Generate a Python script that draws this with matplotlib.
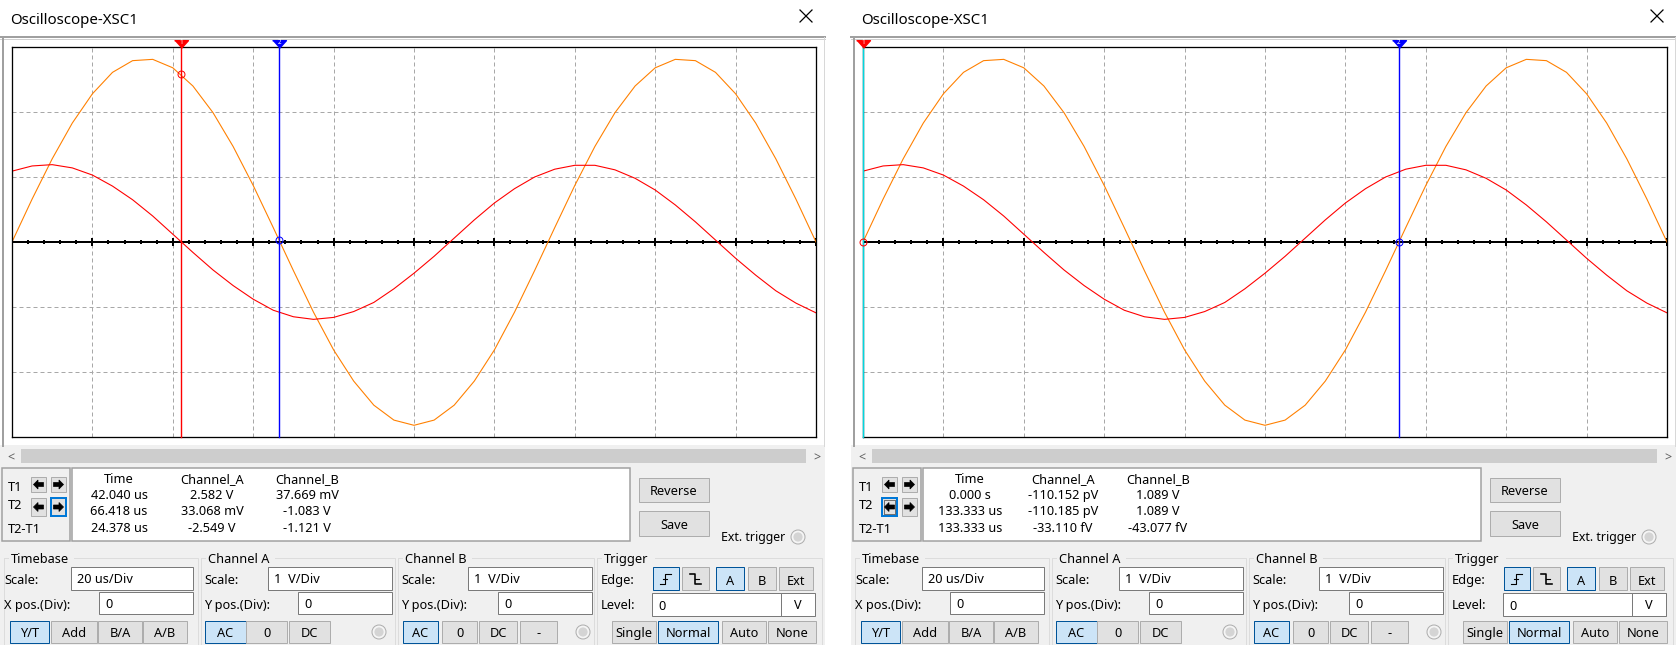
import matplotlib
matplotlib.use('Agg')
import matplotlib.pyplot as plt
from matplotlib.patches import Rectangle, Circle, Polygon

plt.rcParams['font.family'] = ['Noto Sans', 'DejaVu Sans']

# ---------------- data read off the screens ----------------
# sample times (us), 20 us/Div, 10 divisions
t_us = [0, 5, 10, 15, 20, 25, 30, 35, 40, 45, 50, 55, 60, 65, 70, 75, 80, 85, 90, 95,
        100, 105, 110, 115, 120, 125, 130, 135, 140, 145, 150, 155, 160, 165, 170, 175,
        180, 185, 190, 195, 200]

# channel A (orange), volts
ch_a = [0.00, 0.66, 1.28, 1.83, 2.28, 2.61, 2.79, 2.81, 2.68, 2.40, 1.99, 1.47, 0.87,
        0.22, -0.44, -1.08, -1.66, -2.14, -2.51, -2.74, -2.82, -2.74, -2.51, -2.14,
        -1.66, -1.08, -0.44, 0.22, 0.87, 1.47, 1.99, 2.40, 2.68, 2.81, 2.79, 2.61,
        2.28, 1.83, 1.28, 0.66, 0.00]

# channel B (red), volts
ch_b = [1.09, 1.17, 1.19, 1.14, 1.03, 0.86, 0.65, 0.40, 0.12, -0.16, -0.43, -0.67,
        -0.88, -1.05, -1.15, -1.19, -1.16, -1.07, -0.93, -0.72, -0.48, -0.22, 0.06,
        0.34, 0.60, 0.82, 1.00, 1.12, 1.18, 1.18, 1.11, 0.98, 0.80, 0.57, 0.31, 0.03,
        -0.25, -0.51, -0.75, -0.94, -1.09]

# cursor positions (us) and channel A value at each cursor (V)
left_cursor_t = [42.040, 66.418]
left_cursor_a = [2.582, 0.033]
right_cursor_t = [0.0, 133.333]
right_cursor_a = [0.0, 0.0]

# readout tables
readout_head = ['Time', 'Channel_A', 'Channel_B']
left_rows = [['42.040 us', '2.582 V', '37.669 mV'],
             ['66.418 us', '33.068 mV', '-1.083 V'],
             ['24.378 us', '-2.549 V', '-1.121 V']]
right_rows = [['0.000 s', '-110.152 pV', '1.089 V'],
              ['133.333 us', '-110.185 pV', '1.089 V'],
              ['133.333 us', '-33.110 fV', '-43.077 fV']]

W, H = 1676, 645
PX = 0.72  # one pixel in points

fig = plt.figure(figsize=(W / 100, H / 100), dpi=100)
fig.patch.set_facecolor('white')
bg = fig.add_axes([0, 0, 1, 1])
bg.set_xlim(0, W)
bg.set_ylim(H, 0)
bg.axis('off')

FS = 9.2


def rect(x0, y0, x1, y1, fc='none', ec='none', lw=1, z=1, ls='-'):
    bg.add_patch(Rectangle((x0, y0), x1 - x0, y1 - y0, fc=fc, ec=ec,
                           lw=lw * PX, zorder=z, ls=ls))


def txt(x, y, s, ha='left', size=FS, color='black', z=5):
    bg.text(x, y, s, ha=ha, va='baseline', fontsize=size, color=color, zorder=z)


def button(x0, y0, x1, y1, label, active=False, base=None):
    if active:
        rect(x0, y0, x1, y1, fc='#cce4f7', ec='#005499', lw=1, z=3)
    else:
        rect(x0, y0, x1, y1, fc='#e1e1e1', ec='#adadad', lw=1, z=3)
    if label:
        if base is None:
            base = y1 - 6
        txt((x0 + x1) / 2, base, label, ha='center')


def entry(x0, y0, x1, y1, label, base):
    rect(x0, y0, x1, y1, fc='white', ec='#7a7a7a', lw=1, z=3)
    txt(x0 + 6, base, label)


def radio(cx, cy):
    bg.add_patch(Circle((cx, cy), 7, fc='#f5f5f5', ec='#adadad', lw=PX, zorder=4))
    bg.add_patch(Circle((cx, cy), 4.6, fc='#d4d4d4', ec='none', zorder=5))


def arrow(cx, cy, d):
    # d = -1 points left, d = 1 points right
    pts = [(5, 0), (0.5, -4.5), (0.5, -2), (-5, -2), (-5, 2), (0.5, 2), (0.5, 4.5)]
    bg.add_patch(Polygon([(cx + d * px, cy + py) for px, py in pts], closed=True,
                         fc='black', ec='black', lw=0.5, zorder=6))


def draw_window(dx, rows, cur_t, cur_a, t1_color, focus):
    # title bar
    txt(dx + 10, 24, 'Oscilloscope-XSC1', size=10.8)
    bg.plot([dx + 800, dx + 812], [10, 22], color='black', lw=0.9, zorder=5)
    bg.plot([dx + 800, dx + 812], [22, 10], color='black', lw=0.9, zorder=5)

    # screen panel and lower panel
    rect(dx + 0, 445, dx + 825, H, fc='#f0f0f0', z=0)
    bg.plot([dx + 0, dx + 825], [36.5, 36.5], color='#a0a0a0', lw=2 * PX, zorder=2)
    bg.plot([dx + 0, dx + 825], [38.5, 38.5], color='#d0d0d0', lw=1 * PX, zorder=2)
    bg.plot([dx + 2.5, dx + 2.5], [37, 446], color='#a0a0a0', lw=2 * PX, zorder=2)
    bg.plot([dx + 824, dx + 824], [37, 446], color='#d8d8d8', lw=1 * PX, zorder=2)

    # scroll bar
    rect(dx + 21, 449, dx + 806, 463, fc='#cdcdcd', z=2)
    txt(dx + 11, 461, '<', ha='center', size=9, color='#606060')
    txt(dx + 817, 461, '>', ha='center', size=9, color='#606060')

    # cursor buttons box
    rect(dx + 2, 468, dx + 70, 541, fc='#f0f0f0', ec='#a0a0a0', lw=1.5, z=2)
    txt(dx + 8, 491, 'T1')
    txt(dx + 8, 509, 'T2')
    txt(dx + 8, 533, 'T2-T1')
    for (x0, y0, y1, d, foc) in [(31, 477, 492, -1, False), (51, 477, 492, 1, False),
                                 (31, 498, 516, -1, focus == 'left'),
                                 (51, 498, 516, 1, focus == 'right')]:
        if foc:
            rect(dx + x0, y0, dx + x0 + 15, y1, fc='#e1e1e1', ec='#0078d7', lw=2, z=3)
        else:
            rect(dx + x0, y0, dx + x0 + 15, y1, fc='#e1e1e1', ec='#adadad', lw=1, z=3)
        arrow(dx + x0 + 7.5, (y0 + y1) / 2, d)
    if focus == 'left':
        rect(dx + 33, 500, dx + 44, 514, ec='black', lw=1, z=7, ls=(0, (1, 1)))

    # readout box
    rect(dx + 72, 468, dx + 630, 541, fc='white', ec='#a0a0a0', lw=1.5, z=2)
    cols = [119, 212, 307]
    for c, h in zip(cols, readout_head):
        txt(dx + c, 483, h, ha='center')
    for r, base in zip(rows, [499, 515, 532]):
        for c, s in zip(cols, r):
            txt(dx + c, base, s, ha='center')

    button(dx + 639, 478, dx + 709, 502, 'Reverse', base=495)
    button(dx + 639, 511, dx + 709, 536, 'Save', base=529)
    txt(dx + 721, 541, 'Ext. trigger', size=8.9)
    radio(dx + 798, 537)

    # group boxes
    for x0, x1, lab in [(4, 198, 'Timebase'), (201, 395, 'Channel A'),
                        (398, 594, 'Channel B'), (597, 822, 'Trigger')]:
        rect(dx + x0, 558, dx + x1, 652, ec='#dcdcdc', lw=1, z=1)
        w = {'Timebase': 64, 'Channel A': 68, 'Channel B': 68, 'Trigger': 52}[lab]
        rect(dx + x0 + 5, 552, dx + x0 + 6 + w, 562, fc='#f0f0f0', z=1.5)
        txt(dx + x0 + 7, 563, lab)

    # timebase
    txt(dx + 4, 584, 'Scale:')
    entry(dx + 71, 567, dx + 193, 590, '20 us/Div', 583)
    txt(dx + 4, 609, 'X pos.(Div):')
    entry(dx + 99, 592, dx + 193, 614, '0', 608)
    button(dx + 10, 621, dx + 49, 643, 'Y/T', active=True, base=637)
    button(dx + 51, 621, dx + 97, 643, 'Add', base=637)
    button(dx + 98, 621, dx + 142, 643, 'B/A', base=637)
    button(dx + 143, 621, dx + 187, 643, 'A/B', base=637)

    # channel A
    txt(dx + 204, 584, 'Scale:')
    entry(dx + 268, 567, dx + 392, 590, '1  V/Div', 583)
    txt(dx + 204, 609, 'Y pos.(Div):')
    entry(dx + 298, 592, dx + 392, 614, '0', 608)
    button(dx + 205, 621, dx + 246, 643, 'AC', active=True, base=637)
    button(dx + 246, 621, dx + 287, 643, '0', base=637)
    button(dx + 289, 621, dx + 330, 643, 'DC', base=637)
    radio(dx + 379, 632)

    # channel B
    txt(dx + 401, 584, 'Scale:')
    entry(dx + 468, 567, dx + 592, 590, '1  V/Div', 583)
    txt(dx + 401, 609, 'Y pos.(Div):')
    entry(dx + 498, 592, dx + 592, 614, '0', 608)
    button(dx + 403, 621, dx + 438, 643, 'AC', active=True, base=637)
    button(dx + 442, 621, dx + 477, 643, '0', base=637)
    button(dx + 479, 621, dx + 517, 643, 'DC', base=637)
    button(dx + 520, 621, dx + 557, 643, '-', base=637)
    radio(dx + 583, 632)

    # trigger
    txt(dx + 601, 584, 'Edge:')
    button(dx + 653, 567, dx + 679, 590, '', active=True)
    button(dx + 682, 567, dx + 709, 590, '')
    cx, cy = dx + 666, 578.5
    bg.plot([cx - 6, cx - 1, cx - 1, cx + 5], [cy + 5, cy + 5, cy - 5, cy - 5],
            color='black', lw=1.1 * PX, zorder=6)
    bg.plot([cx - 3, cx + 1], [cy, cy], color='black', lw=1.1 * PX, zorder=6)
    cx = dx + 695.5
    bg.plot([cx - 6, cx - 1, cx - 1, cx + 5], [cy - 5, cy - 5, cy + 5, cy + 5],
            color='black', lw=1.6 * PX, zorder=6)
    bg.plot([cx - 1, cx + 3], [cy, cy], color='black', lw=1.1 * PX, zorder=6)
    button(dx + 716, 567, dx + 744, 590, 'A', active=True, base=585)
    button(dx + 748, 567, dx + 776, 590, 'B', base=585)
    button(dx + 779, 567, dx + 813, 590, 'Ext', base=585)
    txt(dx + 601, 609, 'Level:')
    entry(dx + 652, 593, dx + 781, 616, '0', 610)
    rect(dx + 781, 593, dx + 815, 616, fc='white', ec='#7a7a7a', lw=1, z=3)
    txt(dx + 798, 609, 'V', ha='center')
    button(dx + 612, 621, dx + 656, 643, 'Single', base=637)
    button(dx + 658, 621, dx + 718, 643, 'Normal', active=True, base=637)
    button(dx + 722, 621, dx + 766, 643, 'Auto', base=637)
    button(dx + 768, 621, dx + 816, 643, 'None', base=637)

    # ---------------- scope screen ----------------
    ax = fig.add_axes([(12 + dx) / W, 1 - 437 / H, 804 / W, 390 / H])
    ax.set_xlim(0, 200)
    ax.set_ylim(-3, 3)
    ax.set_xticks(range(0, 201, 20))
    ax.set_yticks(range(-3, 4))
    ax.tick_params(length=0, labelbottom=False, labelleft=False)
    ax.grid(True, color='#a8a8a8', ls=(0, (4, 3)), lw=1 * PX)
    for s in ax.spines.values():
        s.set_color('black')
        s.set_linewidth(1.3 * PX)
        s.set_zorder(8)
    ax.axhline(0, color='black', lw=2 * PX, zorder=3)
    ax.vlines(range(0, 201, 4), -0.038, 0.038, color='black', lw=2 * PX, zorder=3)
    ax.vlines(range(0, 201, 20), -0.065, 0.065, color='black', lw=2 * PX, zorder=3)

    ax.plot(t_us, ch_a, color='#ff8000', lw=1.1 * PX, zorder=4)
    ax.plot(t_us, ch_b, color='#ff0000', lw=1.1 * PX, zorder=4)

    colors = [t1_color, '#0000ff']
    mark_col = ['#ff0000', '#0000ff']
    tri = [(-1, 0.55), (1, 0.55), (0, -0.55)]
    for k in range(2):
        ax.axvline(cur_t[k], color=colors[k], lw=1.4 * PX, zorder=9, clip_on=False)
        ax.plot([cur_t[k]], [cur_a[k]], 'o', mfc='none', mec=mark_col[k], ms=5,
                mew=1 * PX, zorder=10, clip_on=False)
        ax.plot([cur_t[k]], [1 + 3.5 / 390], marker=tri, ms=10, color=mark_col[k],
                transform=ax.get_xaxis_transform(), clip_on=False, zorder=11)
        ax.text(cur_t[k], 1 + 4.5 / 390, str(k + 1), color='white', fontsize=4.5,
                fontweight='bold', ha='center', va='center',
                transform=ax.get_xaxis_transform(), clip_on=False, zorder=12)


draw_window(0, left_rows, left_cursor_t, left_cursor_a, '#ff0000', 'right')
draw_window(851, right_rows, right_cursor_t, right_cursor_a, '#00d8e0', 'left')

fig.savefig('out.png', dpi=100)
